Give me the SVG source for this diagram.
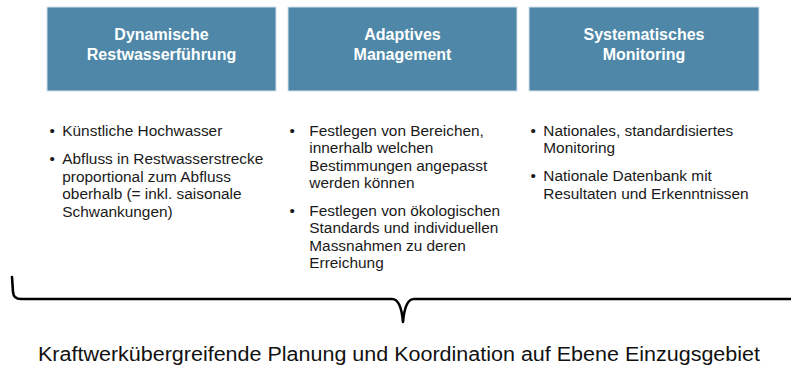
<svg xmlns="http://www.w3.org/2000/svg" width="791" height="367" viewBox="0 0 791 367">
  <style>
    .box { fill: #4e87a8; stroke: #d3e2ec; stroke-width: 1; }
    .title { font-family: "Liberation Sans", Arial, sans-serif; font-size: 16px; font-weight: bold; fill: #ffffff; text-anchor: middle; }
    .item { font-family: "Liberation Sans", Arial, sans-serif; font-size: 15.4px; fill: #1a1a1a; }
    .brace { fill: none; stroke: #000000; stroke-width: 2.6; stroke-linecap: round; stroke-linejoin: round; }
    .caption { font-family: "Liberation Sans", Arial, sans-serif; font-size: 20px; fill: #111111; }
  </style>

  <rect width="791" height="367" fill="#ffffff"/>

  <!-- Column 1 -->
  <g id="node-restwasser">
    <rect class="box" x="47" y="7" width="229" height="84"/>
    <text class="title" x="161.5" y="39.5">Dynamische</text>
    <text class="title" x="161.5" y="59.5">Restwasserführung</text>
    <text class="item" x="49.5" y="136">•</text>
    <text class="item" x="62.3" y="136">Künstliche Hochwasser</text>
    <text class="item" x="49.5" y="164">•</text>
    <text class="item" x="62.3" y="164">Abfluss in Restwasserstrecke</text>
    <text class="item" x="62.3" y="181.6">proportional zum Abfluss</text>
    <text class="item" x="62.3" y="199.2">oberhalb (= inkl. saisonale</text>
    <text class="item" x="62.3" y="216.8">Schwankungen)</text>
  </g>

  <!-- Column 2 -->
  <g id="node-management">
    <rect class="box" x="288" y="7" width="229" height="84"/>
    <text class="title" x="402.5" y="39.5">Adaptives</text>
    <text class="title" x="402.5" y="59.5">Management</text>
    <text class="item" x="289.5" y="135.5">•</text>
    <text class="item" x="309.3" y="135.5">Festlegen von Bereichen,</text>
    <text class="item" x="309.3" y="153">innerhalb welchen</text>
    <text class="item" x="309.3" y="170.5">Bestimmungen angepasst</text>
    <text class="item" x="309.3" y="188">werden können</text>
    <text class="item" x="289.5" y="216">•</text>
    <text class="item" x="309.3" y="216">Festlegen von ökologischen</text>
    <text class="item" x="309.3" y="233.3">Standards und individuellen</text>
    <text class="item" x="309.3" y="250.6">Massnahmen zu deren</text>
    <text class="item" x="309.3" y="267.9">Erreichung</text>
  </g>

  <!-- Column 3 -->
  <g id="node-monitoring">
    <rect class="box" x="529" y="7" width="230" height="84"/>
    <text class="title" x="644" y="39.5">Systematisches</text>
    <text class="title" x="644" y="59.5">Monitoring</text>
    <text class="item" x="530.5" y="135.5">•</text>
    <text class="item" x="543.3" y="135.5">Nationales, standardisiertes</text>
    <text class="item" x="543.3" y="153">Monitoring</text>
    <text class="item" x="530.5" y="181">•</text>
    <text class="item" x="543.3" y="181">Nationale Datenbank mit</text>
    <text class="item" x="543.3" y="198.5">Resultaten und Erkenntnissen</text>
  </g>

  <!-- Curly brace spanning all three columns; its right end runs past the edge -->
  <g id="connectors">
    <path class="brace" d="M12,277 L13,292 Q13.5,299 21,299 H392 Q401,299 403,322 Q405,299 414,299 H800"/>
  </g>

  <g id="node-caption">
    <text class="caption" x="38" y="361" textLength="722" lengthAdjust="spacingAndGlyphs">Kraftwerkübergreifende Planung und Koordination auf Ebene Einzugsgebiet</text>
  </g>
</svg>
